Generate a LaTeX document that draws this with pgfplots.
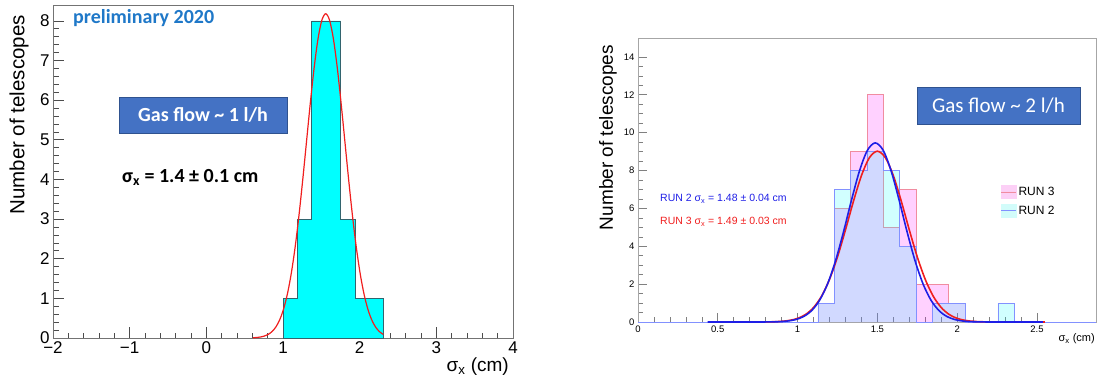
\documentclass[border=0pt]{standalone}
\usepackage{pgfplots}
\pgfplotsset{compat=1.18}
\usepackage{fontspec}
\setmainfont{Liberation Sans}
\newfontfamily\carlito{Carlito}
\definecolor{officeblue}{HTML}{4472C4}
\definecolor{officeborder}{HTML}{2F528F}
\definecolor{prelim}{HTML}{1F78C8}
\definecolor{histedge}{RGB}{50,100,110}
\definecolor{rthreeedge}{RGB}{240,140,160}
\definecolor{rtwoedge}{RGB}{130,145,255}
\definecolor{rthreefill}{RGB}{252,208,246}
\definecolor{rtwofill}{RGB}{210,252,250}
\definecolor{fitblue}{RGB}{30,30,230}
\definecolor{fitred}{RGB}{240,30,30}
\definecolor{purecyan}{RGB}{0,255,255}
\definecolor{puremagenta}{RGB}{255,0,255}
\begin{document}
\begin{tikzpicture}
\useasboundingbox (0pt,0pt) rectangle (1101pt,381pt);
% ---------------- left panel ----------------
\begin{axis}[at={(53pt,43pt)}, anchor=south west, scale only axis,
  width=460pt, height=333pt,
  xmin=-2, xmax=4, ymin=0, ymax=8.4,
  xtick={-2,-1,0,1,2,3,4}, xticklabels={−2,−1,0,1,2,3,4},
  ytick={0,1,2,3,4,5,6,7,8},
  minor x tick num=4, minor y tick num=4,
  tick pos=left, major tick length=11pt, minor tick length=5.5pt,
  axis line style={black!55, line width=0.9pt},
  tick style={black!70, line width=0.6pt},
  ticklabel style={font=\fontsize{17}{17}\selectfont},
  /pgf/number format/assume math mode=true]
\addplot[const plot, fill=purecyan, draw=histedge, line width=0.7pt] coordinates {
(1.0,1) (1.1875,3) (1.375,8) (1.5625,8) (1.75,3) (1.9375,1) (2.125,1) (2.3125,1)} \closedcycle;
\addplot[smooth, fitred, line width=1.2pt] coordinates {
(0.607,0.006) (0.657,0.0125) (0.707,0.0253) (0.757,0.0489) (0.807,0.0909) (0.857,0.162)
(0.907,0.278) (0.957,0.459) (1.007,0.727) (1.057,1.107) (1.107,1.619) (1.157,2.274)
(1.207,3.070) (1.257,3.982) (1.307,4.961) (1.357,5.940) (1.407,6.833) (1.457,7.551)
(1.507,8.018) (1.557,8.18) (1.607,8.018) (1.657,7.551) (1.707,6.833) (1.757,5.940)
(1.807,4.961) (1.857,3.982) (1.907,3.070) (1.957,2.274) (2.007,1.619) (2.057,1.107)
(2.107,0.727) (2.157,0.459) (2.207,0.278) (2.257,0.162) (2.307,0.0909)};
\end{axis}
% ---------------- right panel ----------------
\begin{axis}[at={(638pt,59pt)}, anchor=south west, scale only axis,
  width=458pt, height=284pt,
  xmin=0, xmax=2.87, ymin=0, ymax=15,
  xtick={0,0.5,1,1.5,2,2.5}, xticklabels={0,0.5,1,1.5,2,2.5},
  ytick={0,2,4,6,8,10,12,14},
  minor x tick num=4, minor y tick num=3,
  tick pos=left, major tick length=9pt, minor tick length=5pt,
  axis line style={black!35, line width=0.8pt},
  tick style={black!50, line width=0.6pt},
  ticklabel style={font=\fontsize{9.5}{9.5}\selectfont},
  /pgf/number format/assume math mode=true,
  legend style={at={(0.785,0.49)}, anchor=north west, draw=none, fill=none,
    font=\fontsize{12}{12}\selectfont, row sep=5pt},
  legend cell align=left]
\addplot[const plot, fill=puremagenta, fill opacity=0.18, draw=rthreeedge, line width=0.7pt,
  legend image code/.code={\fill[rthreefill, fill opacity=1] (0pt,-6.5pt) rectangle (15pt,6.5pt);
    \draw[rthreeedge, line width=0.8pt, draw opacity=1] (0pt,0pt) -- (15pt,0pt);}] coordinates {
(0,0) (1.1275,1) (1.23,6) (1.3325,9) (1.435,12) (1.5375,5) (1.64,7) (1.7425,2) (1.845,2)
(1.9475,1) (2.05,0) (2.87,0)};
\addlegendentry{RUN 3}
\addplot[const plot, fill=purecyan, fill opacity=0.18, draw=rtwoedge, line width=0.7pt,
  legend image code/.code={\fill[rtwofill, fill opacity=1] (0pt,-6.5pt) rectangle (15pt,6.5pt);
    \draw[rtwoedge, line width=0.8pt, draw opacity=1] (0pt,0pt) -- (15pt,0pt);}] coordinates {
(0,0) (1.1275,1) (1.23,7) (1.3325,8) (1.435,9) (1.5375,8) (1.64,4) (1.7425,0) (1.845,1)
(1.9475,1) (2.05,0) (2.255,1) (2.3575,0) (2.87,0)};
\addlegendentry{RUN 2}
\addplot[smooth, fitred, line width=1.6pt, forget plot] coordinates {
(0.45,0) (0.55,0) (0.65,0) (0.75,0.0015) (0.80,0.0047) (0.85,0.0133) (0.90,0.0349)
(0.95,0.0847) (1.00,0.190) (1.05,0.396) (1.10,0.7635) (1.15,1.362) (1.20,2.250)
(1.25,3.438) (1.30,4.865) (1.35,6.374) (1.40,7.730) (1.45,8.679) (1.50,9.02)
(1.55,8.679) (1.60,7.730) (1.65,6.374) (1.70,4.865) (1.75,3.438) (1.80,2.250)
(1.85,1.362) (1.90,0.7635) (1.95,0.396) (2.00,0.190) (2.05,0.0847) (2.10,0.0349)
(2.15,0.0133) (2.20,0.0047) (2.25,0.0015) (2.35,0) (2.45,0) (2.55,0)};
\addplot[smooth, fitblue, line width=1.6pt, forget plot] coordinates {
(0.437,0) (0.537,0) (0.637,0) (0.737,0) (0.787,0.002) (0.837,0.0063) (0.887,0.0187)
(0.937,0.0505) (0.987,0.125) (1.037,0.285) (1.087,0.594) (1.137,1.136) (1.187,1.994)
(1.237,3.209) (1.287,4.736) (1.337,6.411) (1.387,7.957) (1.437,9.060) (1.487,9.46)
(1.537,9.060) (1.587,7.957) (1.637,6.411) (1.687,4.736) (1.737,3.209) (1.787,1.994)
(1.837,1.136) (1.887,0.594) (1.937,0.285) (1.987,0.125) (2.037,0.0505) (2.087,0.0187)
(2.137,0.0063) (2.187,0.002) (2.237,0) (2.337,0) (2.437,0) (2.537,0)};
\end{axis}
% ---------------- labels and annotations ----------------
\node[rotate=90, anchor=east, inner sep=0pt, font=\fontsize{20.5}{20.5}\selectfont] at (19pt,366pt) {Number of telescopes};
\node[anchor=east, inner sep=0pt, font=\fontsize{19}{19}\selectfont] at (509pt,14pt) {σ\textsubscript{x} (cm)};
\node[anchor=west, inner sep=0pt, font=\carlito\bfseries\fontsize{20}{20}\selectfont, text=prelim] at (73pt,363pt) {preliminary 2020};
\node[fill=officeblue, draw=officeborder, line width=0.6pt, minimum width=168pt, minimum height=36pt, inner sep=0pt,
  text=white, font=\carlito\bfseries\fontsize{20}{20}\selectfont] at (203pt,266pt) {Gas flow \textasciitilde{} 1 l/h};
\node[anchor=west, inner sep=0pt, font=\carlito\bfseries\fontsize{20}{20}\selectfont] at (122pt,204pt) {σ\textsubscript{x} = 1.4 ± 0.1 cm};
\node[rotate=90, anchor=east, inner sep=0pt, font=\fontsize{19}{19}\selectfont] at (608pt,336pt) {Number of telescopes};
\node[anchor=east, inner sep=0pt, font=\fontsize{11}{11}\selectfont] at (1095pt,42pt) {σ\textsubscript{x} (cm)};
\node[fill=officeblue, draw=officeborder, line width=0.6pt, minimum width=163pt, minimum height=37pt, inner sep=0pt,
  text=white, font=\carlito\fontsize{21}{21}\selectfont] at (998.5pt,275.5pt) {Gas flow \textasciitilde{} 2 l/h};
\node[anchor=west, inner sep=0pt, text=fitblue, font=\fontsize{10.5}{10.5}\selectfont] at (660pt,182pt) {RUN 2 σ\textsubscript{x} = 1.48 ± 0.04 cm};
\node[anchor=west, inner sep=0pt, text=fitred, font=\fontsize{10.5}{10.5}\selectfont] at (660pt,159pt) {RUN 3 σ\textsubscript{x} = 1.49 ± 0.03 cm};
\end{tikzpicture}
\end{document}
